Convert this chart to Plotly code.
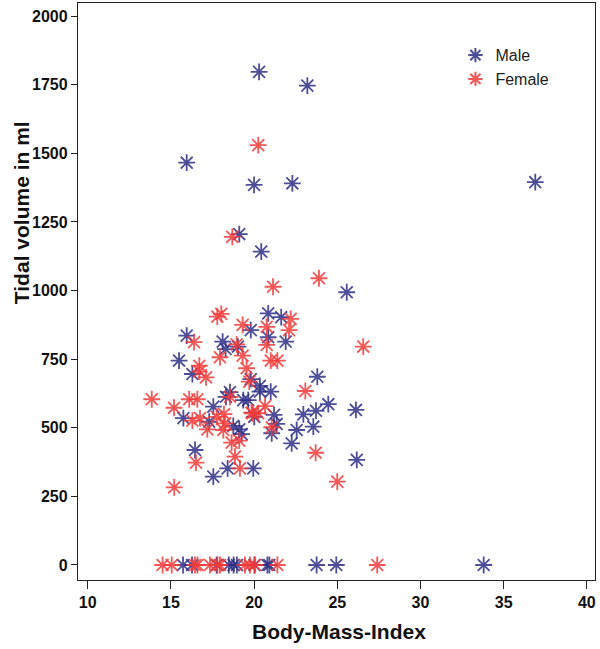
import plotly.graph_objects as go

# Male data (BMI, tidal volume)
male_bmi = [20.3, 23.2, 15.95, 20.0, 22.3, 36.9, 19.11, 20.43, 25.57, 19.8, 20.85, 21.63,
            20.85, 21.9, 15.95, 18.11, 18.29, 19.03, 15.49, 16.29, 23.8, 20.35, 19.8, 20.35,
            21.0, 24.46, 26.12, 23.72, 22.96, 17.55, 18.31, 19.35, 19.65, 15.75, 17.3, 18.75,
            19.11, 19.25, 16.45, 18.41, 19.95, 17.55, 20.01, 21.2, 21.36, 21.06, 22.56, 22.26,
            23.56, 26.17, 18.55,
            15.73, 16.27, 17.75, 18.48, 18.77, 18.97, 20.02, 20.8, 20.92, 23.76, 24.94, 33.8]
male_tv = [1797, 1747, 1466, 1385, 1391, 1395, 1206, 1142, 994, 856, 917, 903,
           830, 814, 836, 814, 787, 796, 745, 696, 686, 653, 677, 632,
           632, 586, 565, 562, 549, 577, 613, 601, 601, 535, 522, 507,
           494, 477, 419, 352, 352, 322, 540, 547, 514, 480, 492, 443,
           504, 383, 630,
           0, 0, 0, 0, 0, 0, 0, 0, 0, 0, 0, 0]

# Female data (BMI, tidal volume)
female_bmi = [20.25, 18.69, 21.14, 23.9, 17.79, 18.03, 19.31, 22.2, 22.1, 20.76, 20.76, 16.39,
              18.95, 19.31, 17.95, 26.56, 16.71, 16.71, 17.11, 19.55, 21.0, 21.4, 19.71, 23.08,
              13.85, 15.19, 16.1, 16.59, 18.55, 20.66, 19.85, 16.29, 16.75, 17.19, 17.75, 18.19,
              18.25, 18.15, 18.65, 19.11, 16.51, 18.85, 19.15, 15.2, 19.91, 20.25, 21.06, 23.7,
              25.0,
              14.5, 15.05, 16.45, 16.6, 17.35, 17.8, 17.95, 19.45, 19.75, 20.05, 21.4, 27.4]
female_tv = [1530, 1196, 1014, 1045, 905, 915, 875, 897, 856, 868, 802, 812,
             804, 763, 757, 796, 726, 705, 684, 717, 745, 745, 668, 634,
             604, 573, 604, 604, 613, 579, 555, 526, 535, 494, 540, 550,
             516, 492, 446, 453, 373, 395, 352, 283, 553, 553, 502, 409,
             304,
             0, 0, 0, 0, 0, 0, 0, 0, 0, 0, 0, 0]

x_ticks = [10, 15, 20, 25, 30, 35, 40]
y_ticks = [0, 250, 500, 750, 1000, 1250, 1500, 1750, 2000]

male_color = "#2e2f85"
female_color = "#f23a3a"

fig = go.Figure()
fig.add_trace(go.Scatter(
    x=male_bmi, y=male_tv, mode="markers", name="Male",
    marker=dict(symbol="asterisk-open", size=14, color=male_color,
                line=dict(width=1.8, color=male_color), opacity=0.85)))
fig.add_trace(go.Scatter(
    x=female_bmi, y=female_tv, mode="markers", name="Female",
    marker=dict(symbol="asterisk-open", size=14, color=female_color,
                line=dict(width=1.8, color=female_color), opacity=0.85)))

tick_font = dict(family="Liberation Sans, Arial", size=16, color="#111111")
title_font = dict(family="Liberation Sans, Arial", size=21, color="#111111")

fig.update_layout(
    width=600, height=649,
    margin=dict(l=78, r=5, t=3, b=69),
    plot_bgcolor="white", paper_bgcolor="white",
    showlegend=True,
    legend=dict(x=0.73, y=0.939, xanchor="left", yanchor="top",
                bgcolor="rgba(0,0,0,0)", font=dict(family="Liberation Sans, Arial", size=16, color="#222"),
                itemsizing="constant", tracegroupgap=0),
    xaxis=dict(range=[9.417, 40.49], tickvals=x_ticks, ticktext=["<b>%d</b>" % v for v in x_ticks],
               showgrid=False, zeroline=False, showline=True, linecolor="#222", linewidth=1.3,
               mirror=True, ticks="outside", ticklen=8, tickcolor="#222", tickwidth=1.3,
               tickfont=tick_font, automargin=False),
    yaxis=dict(range=[-54.7, 2048], tickvals=y_ticks, ticktext=["<b>%d</b>" % v for v in y_ticks],
               showgrid=False, zeroline=False, showline=True, linecolor="#222", linewidth=1.3,
               mirror=True, ticks="outside", ticklen=6, tickcolor="#222", tickwidth=1.3,
               tickfont=tick_font, automargin=False),
    annotations=[
        dict(text="<b>Body-Mass-Index</b>", xref="paper", yref="paper", x=0.505, y=-0.0884,
             xanchor="center", yanchor="middle", showarrow=False, font=title_font),
        dict(text="<b>Tidal volume in ml</b>", xref="paper", yref="paper", x=-0.110, y=0.636,
             xanchor="center", yanchor="middle", textangle=-90, showarrow=False, font=title_font),
    ],
)

fig.write_html("out.html", config={"displayModeBar": False},
               post_script="document.body.style.margin='0';")
